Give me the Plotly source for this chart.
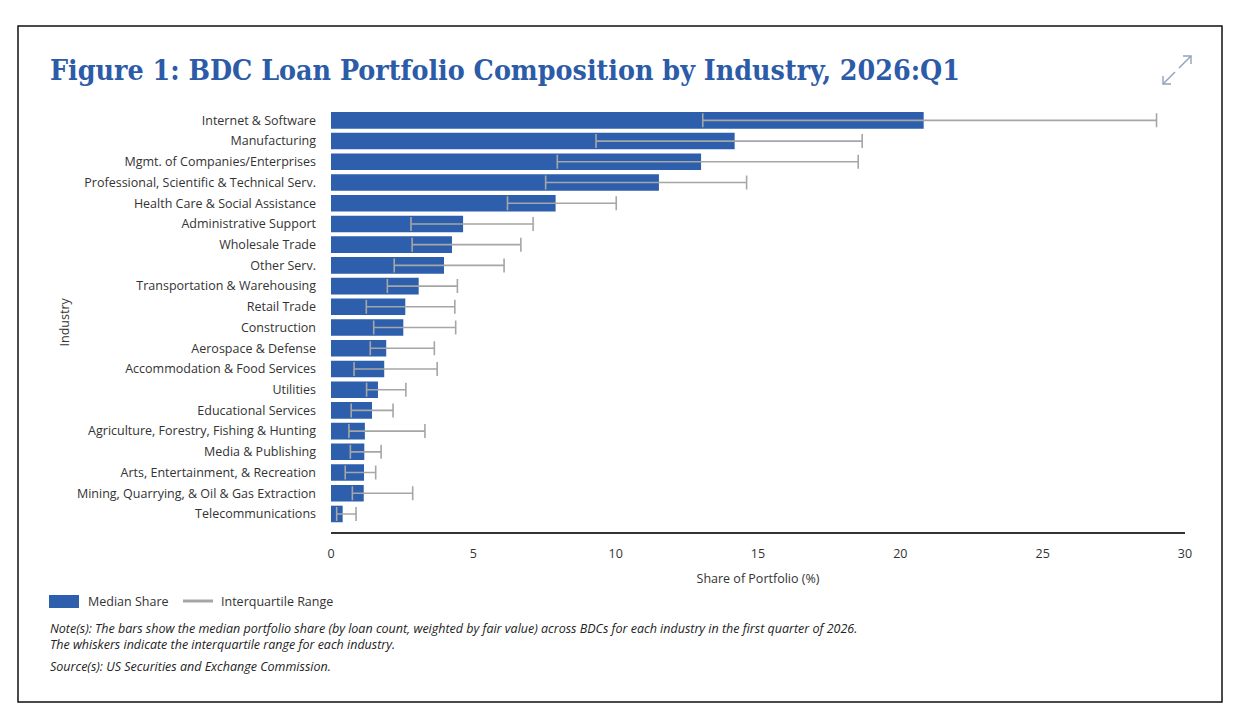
import plotly.graph_objects as go

# data (share of portfolio, %)
industries = [
    "Internet & Software",
    "Manufacturing",
    "Mgmt. of Companies/Enterprises",
    "Professional, Scientific & Technical Serv.",
    "Health Care & Social Assistance",
    "Administrative Support",
    "Wholesale Trade",
    "Other Serv.",
    "Transportation & Warehousing",
    "Retail Trade",
    "Construction",
    "Aerospace & Defense",
    "Accommodation & Food Services",
    "Utilities",
    "Educational Services",
    "Agriculture, Forestry, Fishing & Hunting",
    "Media & Publishing",
    "Arts, Entertainment, & Recreation",
    "Mining, Quarrying, & Oil & Gas Extraction",
    "Telecommunications",
]
median_share = [20.82, 14.18, 13.00, 11.52, 7.89, 4.64, 4.25, 3.97, 3.08, 2.61,
                2.54, 1.94, 1.87, 1.65, 1.44, 1.19, 1.17, 1.16, 1.15, 0.41]
q1_share = [13.06, 9.31, 7.95, 7.54, 6.20, 2.81, 2.85, 2.22, 1.98, 1.24,
            1.50, 1.38, 0.81, 1.25, 0.71, 0.63, 0.68, 0.50, 0.75, 0.20]
q3_share = [29.00, 18.66, 18.52, 14.60, 10.02, 7.10, 6.67, 6.08, 4.44, 4.35,
            4.38, 3.63, 3.73, 2.63, 2.18, 3.30, 1.76, 1.57, 2.87, 0.88]
x_ticks = [0, 5, 10, 15, 20, 25, 30]

BLUE = "#2d5fad"
GRAY = "#a6a6a6"
TEXT = "#333333"

# the page body adds an 8px margin, so the figure is a bit smaller than the window
OFF = 8
FW, FH = 1242 - 2 * OFF, 722 - 2 * OFF
L, R, T, B = 331, 1185, 110, 532  # plot area, in window pixels


def px(x):
    return (x - L) / (R - L)


def py(y):
    return (B - y) / (B - T)


err_plus = [hi - m for hi, m in zip(q3_share, median_share)]
err_minus = [m - lo for lo, m in zip(q1_share, median_share)]

fig = go.Figure()
fig.add_trace(go.Bar(
    x=median_share, y=industries, orientation="h",
    marker=dict(color=BLUE, line=dict(width=0)),
    error_x=dict(type="data", symmetric=False, array=err_plus,
                 arrayminus=err_minus, color=GRAY, thickness=1.6, width=7),
    showlegend=False,
    hovertemplate="%{y}: %{x:.2f}%<extra></extra>",
))

fig.update_layout(
    width=FW, height=FH,
    margin=dict(l=L - OFF, r=FW - (R - OFF), t=T - OFF, b=FH - (B - OFF)),
    paper_bgcolor="white", plot_bgcolor="white",
    bargap=0.2,
    font=dict(family="Open Sans", size=12.5, color=TEXT),
    xaxis=dict(
        range=[0, 30], tickvals=x_ticks, showgrid=False, zeroline=False,
        showline=True, linecolor="#333333", linewidth=1.5,
        ticks="", ticklabelstandoff=9,
        title=dict(text="Share of Portfolio (%)", standoff=13,
                   font=dict(size=12.5)),
    ),
    yaxis=dict(
        categoryorder="array", categoryarray=industries,
        range=[19.87, -0.5], showgrid=False, zeroline=False,
        showline=False, ticks="", ticklabelstandoff=14,
    ),
)


def note(text, x, y, **kw):
    font = dict(size=12.5, color=TEXT)
    font.update(kw.pop("font", {}))
    fig.add_annotation(text=text, x=px(x), y=py(y), xref="paper", yref="paper",
                       yanchor="middle", showarrow=False, font=font, **kw)


# y-axis title sits out at the left edge
note("Industry", 53, 322, textangle=-90)

# title
note("<b>Figure 1: BDC Loan Portfolio Composition by Industry, 2026:Q1</b>", 48, 70,
     xanchor="left", font=dict(family="DejaVu Serif Condensed", size=28.3, color="#2c5ba8"))

# expand icon: two outward arrows, corner heads
ICON = "#8fa3bc"
for (cx, cy, sx, sy) in [(1191, 56, -1, 1), (1163, 84, 1, -1)]:
    fig.add_shape(type="line", xref="paper", yref="paper",
                  x0=px(cx), y0=py(cy), x1=px(cx + 12 * sx), y1=py(cy + 12 * sy),
                  line=dict(color=ICON, width=1.4))
    fig.add_shape(type="path", xref="paper", yref="paper",
                  path="M {:.5f},{:.5f} L {:.5f},{:.5f} L {:.5f},{:.5f}".format(
                      px(cx + 8 * sx), py(cy), px(cx), py(cy), px(cx), py(cy + 8 * sy)),
                  line=dict(color=ICON, width=1.4))

# legend drawn by hand
fig.add_shape(type="rect", xref="paper", yref="paper",
              x0=px(49), x1=px(79), y0=py(595), y1=py(608),
              fillcolor=BLUE, line=dict(width=0))
note("Median Share", 86, 601, xanchor="left")
fig.add_shape(type="line", xref="paper", yref="paper",
              x0=px(183), x1=px(213), y0=py(601), y1=py(601),
              line=dict(color=GRAY, width=3))
note("Interquartile Range", 219, 601, xanchor="left")

# notes
notes = [
    (628, "Note(s): The bars show the median portfolio share (by loan count, weighted by fair value) across BDCs for each industry in the first quarter of 2026."),
    (644, "The whiskers indicate the interquartile range for each industry."),
    (666, "Source(s): US Securities and Exchange Commission."),
]
for yy, txt in notes:
    note("<i>" + txt + "</i>", 48, yy, xanchor="left",
         font=dict(size=12.5, color="#222222"))

# outer frame
fig.add_shape(type="rect", xref="paper", yref="paper",
              x0=px(18), x1=px(1222), y0=py(26), y1=py(702),
              line=dict(color="#111111", width=1.5), fillcolor="rgba(0,0,0,0)")

fig.write_html("out.html")
